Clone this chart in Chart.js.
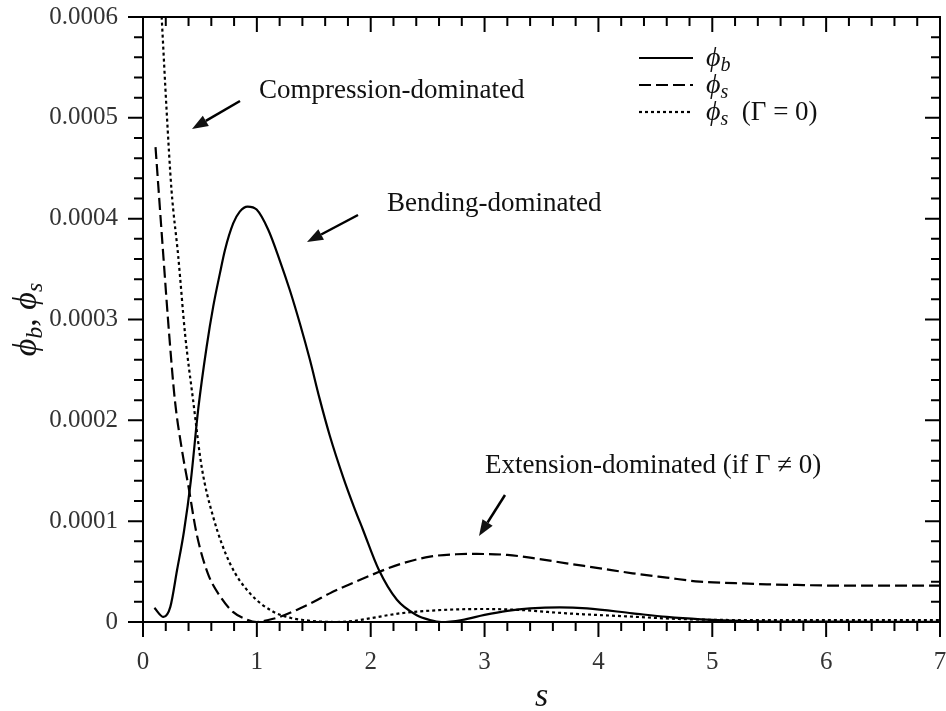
<!DOCTYPE html>
<html>
<head>
<meta charset="utf-8">
<script src="https://cdn.jsdelivr.net/npm/chart.js@4"></script>
<style>
  body { margin: 0; background: #fff; }
  canvas { display: block; }
</style>
</head>
<body>
<canvas id="phiChart" width="946" height="711"></canvas>
<script>
// phi_b (solid)
const sB = [0.10, 0.18, 0.24, 0.30, 0.36, 0.42, 0.486, 0.559, 0.617, 0.676, 0.72, 0.793, 0.85, 0.919, 0.998,
  1.10, 1.20, 1.29, 1.378, 1.466, 1.55, 1.64, 1.76, 1.85, 1.93, 2.07, 2.23, 2.40, 2.52, 2.62, 2.80, 3.00, 3.20,
  3.40, 3.66, 3.90, 4.30, 4.60, 4.90, 5.30, 6.00, 7.00];
const phiB = [0.14e-4, 0.05e-4, 0.15e-4, 0.52e-4, 0.90e-4, 1.40e-4, 2.12e-4, 2.73e-4, 3.13e-4, 3.46e-4, 3.69e-4,
  3.955e-4, 4.07e-4, 4.12e-4, 4.09e-4, 3.89e-4, 3.59e-4, 3.29e-4, 2.96e-4, 2.60e-4, 2.22e-4, 1.85e-4, 1.43e-4,
  1.15e-4, 0.92e-4, 0.52e-4, 0.22e-4, 0.07e-4, 0.02e-4, 0.0, 0.02e-4, 0.07e-4, 0.11e-4, 0.135e-4, 0.146e-4,
  0.135e-4, 0.086e-4, 0.05e-4, 0.027e-4, 0.01e-4, 0.003e-4, 0.001e-4];

// phi_s (dashed)
const sS = [0.11, 0.18, 0.23, 0.28, 0.34, 0.40, 0.47, 0.57, 0.68, 0.79, 0.90, 1.00, 1.10, 1.20, 1.35, 1.50,
  1.64, 1.85, 2.08, 2.26, 2.52, 2.75, 2.93, 3.20, 3.45, 3.72, 4.00, 4.30, 4.60, 4.89, 5.20, 5.48, 5.80, 6.06,
  6.50, 7.00];
const phiS = [4.71e-4, 3.61e-4, 2.85e-4, 2.20e-4, 1.72e-4, 1.34e-4, 0.88e-4, 0.48e-4, 0.25e-4, 0.10e-4, 0.03e-4,
  0.0, 0.02e-4, 0.05e-4, 0.12e-4, 0.20e-4, 0.284e-4, 0.39e-4, 0.50e-4, 0.575e-4, 0.648e-4, 0.672e-4, 0.675e-4,
  0.665e-4, 0.63e-4, 0.582e-4, 0.535e-4, 0.483e-4, 0.44e-4, 0.40e-4, 0.385e-4, 0.374e-4, 0.366e-4, 0.361e-4,
  0.36e-4, 0.36e-4];

// phi_s with Gamma = 0 (dotted)
const sS0 = [0.15, 0.164, 0.207, 0.25, 0.31, 0.37, 0.44, 0.515, 0.617, 0.764, 0.94, 1.144, 1.30, 1.41, 1.55,
  1.70, 1.85, 1.99, 2.26, 2.52, 2.75, 2.99, 3.30, 3.72, 4.30, 4.70, 5.18, 6.00, 7.00];
const phiS0 = [6.3e-4, 6.0e-4, 5.08e-4, 4.29e-4, 3.62e-4, 2.85e-4, 2.20e-4, 1.54e-4, 1.04e-4, 0.58e-4, 0.284e-4,
  0.102e-4, 0.04e-4, 0.02e-4, 0.005e-4, 0.0, 0.01e-4, 0.036e-4, 0.086e-4, 0.112e-4, 0.125e-4, 0.129e-4, 0.12e-4,
  0.086e-4, 0.053e-4, 0.03e-4, 0.02e-4, 0.02e-4, 0.02e-4];

const xMin = 0, xMax = 7, xStep = 1, xMinor = 0.2;
const yMin = 0, yMax = 0.0006, yStep = 0.0001, yMinor = 0.00002;

const SERIF = "'Liberation Serif', 'DejaVu Serif', serif";
const DASH = [12, 5];
const DOT = [3, 3];
const AREA = { left: 143, top: 17, right: 940, bottom: 622 };

function pts(xs, ys) {
  return xs.map((x, i) => ({ x: x, y: ys[i] }));
}

// text made of pieces: [text, size, italic, dy]
function drawParts(ctx, parts, x, y, align) {
  let w = 0;
  parts.forEach(p => {
    ctx.font = (p[2] ? 'italic ' : '') + p[1] + 'px ' + SERIF;
    w += ctx.measureText(p[0]).width;
  });
  let cx = align === 'center' ? x - w / 2 : x;
  ctx.textBaseline = 'alphabetic';
  ctx.textAlign = 'left';
  parts.forEach(p => {
    ctx.font = (p[2] ? 'italic ' : '') + p[1] + 'px ' + SERIF;
    ctx.fillText(p[0], cx, y + (p[3] || 0));
    cx += ctx.measureText(p[0]).width;
  });
}

function arrow(ctx, x1, y1, x2, y2) {
  const ang = Math.atan2(y2 - y1, x2 - x1);
  const L = 16, W = 6;
  const bx = x2 - L * Math.cos(ang), by = y2 - L * Math.sin(ang);
  ctx.beginPath();
  ctx.moveTo(x1, y1);
  ctx.lineTo(bx, by);
  ctx.lineWidth = 2.5;
  ctx.stroke();
  ctx.beginPath();
  ctx.moveTo(x2, y2);
  ctx.lineTo(bx + W * Math.sin(ang), by - W * Math.cos(ang));
  ctx.lineTo(bx - W * Math.sin(ang), by + W * Math.cos(ang));
  ctx.closePath();
  ctx.fill();
}

const frame = {
  id: 'frame',
  // pin the plot box to where it sits in the original figure
  afterLayout(chart) {
    const { x, y } = chart.scales;
    const A = AREA;
    Object.assign(x, { left: A.left, right: A.right, width: A.right - A.left,
      top: A.bottom, bottom: chart.height, height: chart.height - A.bottom });
    Object.assign(y, { left: 0, right: A.left, width: A.left,
      top: A.top, bottom: A.bottom, height: A.bottom - A.top });
    x.configure();
    y.configure();
    Object.assign(chart.chartArea, A, { width: A.right - A.left, height: A.bottom - A.top });
  },
  afterDatasetsDraw(chart) {
    const { ctx, chartArea: a, scales: { x, y } } = chart;
    ctx.save();
    ctx.strokeStyle = '#000';
    ctx.lineWidth = 2;
    ctx.strokeRect(a.left, a.top, a.right - a.left, a.bottom - a.top);
    ctx.beginPath();
    const nx = Math.round((xMax - xMin) / xMinor);
    for (let i = 0; i <= nx; i++) {
      const px = x.getPixelForValue(xMin + i * xMinor);
      const len = i % 5 === 0 ? 15 : 9;
      ctx.moveTo(px, a.bottom); ctx.lineTo(px, a.bottom + len);
      ctx.moveTo(px, a.top); ctx.lineTo(px, a.top + len);
    }
    const ny = Math.round((yMax - yMin) / yMinor);
    for (let j = 0; j <= ny; j++) {
      const py = y.getPixelForValue(yMin + j * yMinor);
      const len = j % 5 === 0 ? 15 : 9;
      ctx.moveTo(a.left - len, py); ctx.lineTo(a.left, py);
      ctx.moveTo(a.right - len, py); ctx.lineTo(a.right, py);
    }
    ctx.stroke();
    ctx.restore();
  },
  afterDraw(chart) {
    const ctx = chart.ctx;
    ctx.save();
    ctx.fillStyle = '#111';
    ctx.strokeStyle = '#000';

    // legend
    const rows = [
      { y: 58, dash: [], parts: [['\u03D5', 28, true], ['b', 20, true, 5]] },
      { y: 85, dash: DASH, parts: [['\u03D5', 28, true], ['s', 20, true, 5]] },
      { y: 112, dash: DOT, parts: [['\u03D5', 28, true], ['s', 20, true, 5], ['  (\u0393 = 0)', 27, false]] }
    ];
    rows.forEach(r => {
      ctx.beginPath();
      ctx.setLineDash(r.dash);
      ctx.lineWidth = 2.2;
      ctx.moveTo(639, r.y);
      ctx.lineTo(693, r.y);
      ctx.stroke();
      ctx.setLineDash([]);
      drawParts(ctx, r.parts, 706, r.y + 8, 'left');
    });

    // annotations
    drawParts(ctx, [['Compression-dominated', 27, false]], 259, 98, 'left');
    drawParts(ctx, [['Bending-dominated', 27, false]], 387, 211, 'left');
    drawParts(ctx, [['Extension-dominated (if \u0393 \u2260 0)', 27, false]], 485, 473, 'left');
    arrow(ctx, 240, 101, 192, 129);
    arrow(ctx, 358, 215, 307, 242);
    arrow(ctx, 505, 495, 479, 536);

    // y axis title
    const a = chart.chartArea;
    ctx.translate(36, (a.top + a.bottom) / 2);
    ctx.rotate(-Math.PI / 2);
    drawParts(ctx, [['\u03D5', 34, true], ['b', 24, true, 6], [', ', 34, false],
      ['\u03D5', 34, true], ['s', 24, true, 6]], 0, 0, 'center');
    ctx.restore();
  }
};

const line = (data, dash) => ({
  data: data,
  borderColor: '#000',
  borderWidth: 2.2,
  borderDash: dash,
  pointRadius: 0,
  fill: false,
  cubicInterpolationMode: 'monotone'
});

new Chart(document.getElementById('phiChart'), {
  type: 'line',
  data: {
    datasets: [
      line(pts(sB, phiB), []),
      line(pts(sS, phiS), DASH),
      line(pts(sS0, phiS0), DOT)
    ]
  },
  options: {
    responsive: false,
    animation: false,
    layout: { autoPadding: false, padding: { top: 17, right: 6, left: 0, bottom: 0 } },
    plugins: { legend: { display: false }, tooltip: { enabled: false } },
    scales: {
      x: {
        type: 'linear',
        min: xMin, max: xMax,
        afterFit: s => { s.height = 89; },
        grid: { display: false, drawTicks: false },
        border: { display: false },
        ticks: {
          stepSize: xStep,
          padding: 25,
          color: '#333',
          font: { family: SERIF, size: 25 },
          maxRotation: 0
        },
        title: {
          display: true,
          text: 's',
          color: '#111',
          font: { family: SERIF, size: 34, style: 'italic', lineHeight: 0.8 },
          padding: { top: 0, bottom: 0 }
        }
      },
      y: {
        type: 'linear',
        min: yMin, max: yMax,
        afterFit: s => { s.width = 143; },
        grid: { display: false, drawTicks: false },
        border: { display: false },
        ticks: {
          stepSize: yStep,
          padding: 25,
          color: '#333',
          font: { family: SERIF, size: 25 },
          callback: v => (v === 0 ? '0' : v.toFixed(4))
        }
      }
    }
  },
  plugins: [frame]
});
</script>
</body>
</html>
